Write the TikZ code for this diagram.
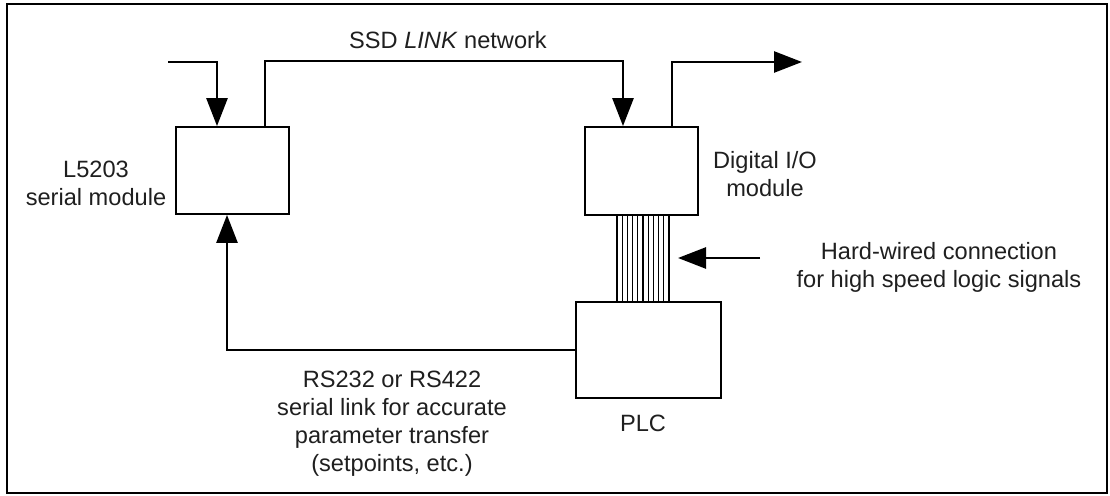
\documentclass[tikz,border=0pt]{standalone}
\usepackage{fontspec}
\setmainfont{Liberation Sans}
\usetikzlibrary{arrows.meta}

\begin{document}
\begin{tikzpicture}[x=0.5pt,y=-0.5pt,
        font=\fontsize{11.8}{14}\selectfont,
        box/.style={draw,line width=0.9pt,inner sep=0pt},
        link/.style={line width=1.3pt},
        tip/.style={-{Triangle[length=14pt,width=10.5pt]}},
        wire/.style={line width=0.6pt},
        txt/.style={align=center,inner sep=0pt,text=black!88}]
        \useasboundingbox (0,0) rectangle (1110,496);
        \draw[line width=1pt] (7,4) rectangle (1107,493);

        % boxes
        \node[box,minimum width=56.5pt,minimum height=43.5pt] (serial) at (232.5,170.5) {};
        \node[box,minimum width=56.5pt,minimum height=44pt] (dio) at (641.5,171) {};
        \node[box,minimum width=72.5pt,minimum height=48pt] (plc) at (648.5,350) {};

        % free ends
        \coordinate (netin) at (168,62);
        \coordinate (netout) at (802,62);
        \coordinate (hwin) at (760,258);
        \coordinate (hwtip) at (678,258);

        % network
        \draw[link,tip] (netin) -| ([xshift=-7.75pt]serial.north);
        \draw[link,tip] ([xshift=16.25pt]serial.north) -- ++(0,-65) -| ([xshift=-9.25pt]dio.north);
        \draw[link,tip] ([xshift=15.25pt]dio.north) |- (netout);

        % serial link
        \draw[link,tip] (plc.west) -| ([xshift=-2.75pt]serial.south);

        % hard wiring
        \foreach \x in {617,622.2,...,669}
            \draw[wire] (\x,0 |- dio.south) -- (\x,0 |- plc.north);
        \draw[link,tip] (hwin) -- (hwtip);

        % labels
        \node[txt] (netlbl) at (448,40) {SSD \textit{LINK} network};
        \node[txt] (serlbl) at (96,183) {L5203\\serial module};
        \node[txt] (diolbl) at (765,174) {Digital I/O\\module};
        \node[txt] (hwlbl) at (939,267) {Hard-wired connection\\for high speed logic signals};
        \node[txt] (rslbl) at (392,424) {RS232 or RS422\\serial link for accurate\\parameter transfer\\(setpoints, etc.)};
        \node[txt] (plclbl) at (643,423) {PLC};
    \end{tikzpicture}
\end{document}
